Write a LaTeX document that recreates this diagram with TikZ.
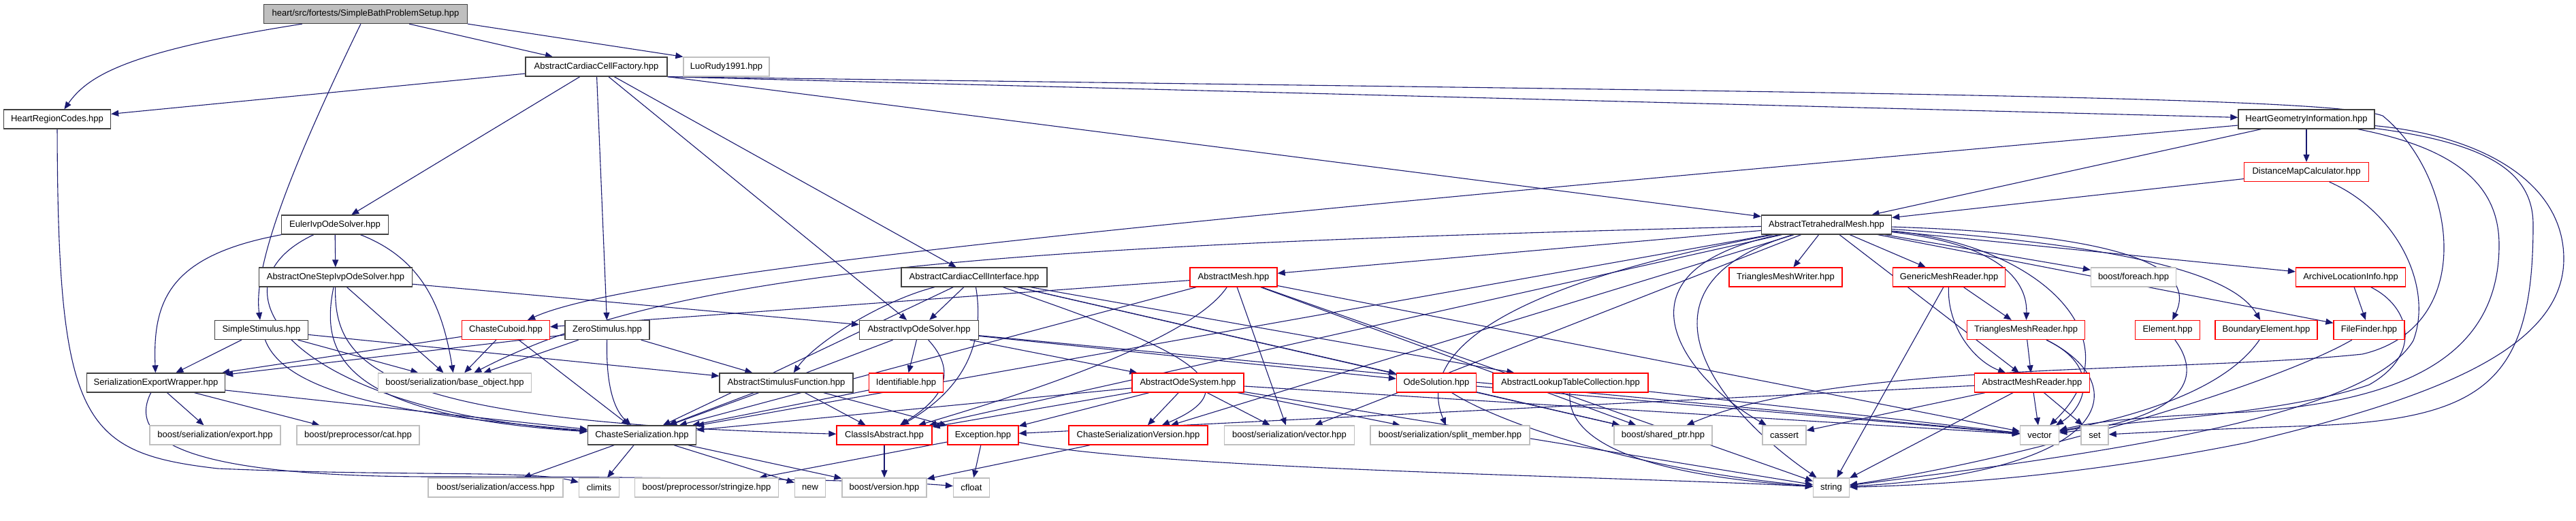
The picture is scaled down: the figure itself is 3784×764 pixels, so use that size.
\documentclass[tikz,border=0pt]{standalone}
\usepackage{fontspec}
\setmainfont{Liberation Sans}
\usetikzlibrary{arrows.meta}
\definecolor{edgec}{HTML}{191970}
\definecolor{nodeb}{HTML}{404040}
\definecolor{grayb}{HTML}{BFBFBF}
\definecolor{mainf}{HTML}{BFBFBF}
\pgfdeclarelayer{back}
\pgfdeclarelayer{edges}
\pgfsetlayers{back,edges,main}
\begin{document}
\begin{tikzpicture}[x=1pt,y=-1pt,
  font=\fontsize{13}{15}\selectfont,
  box/.style={draw=nodeb, line width=1.3pt, fill=white, minimum height=28pt, inner xsep=6pt, inner ysep=0pt, text=black},
  mainbox/.style={box, fill=mainf},
  redbox/.style={box, draw=red},
  graybox/.style={box, draw=grayb},
  e/.style={draw=edgec, line width=1.1pt, -{Triangle[length=11pt,width=9pt]}},
]
\useasboundingbox (0,0) rectangle (3784,764);
\begin{pgfonlayer}{back}
\fill[white] (0,0) rectangle (3784,764);
\end{pgfonlayer}

\node[mainbox, minimum width=299pt] (main) at (537,20.5) {heart/src/fortests/SimpleBathProblemSetup.hpp};
\node[box, minimum width=208pt] (ACCF) at (876,98) {AbstractCardiacCellFactory.hpp};
\node[graybox, minimum width=126pt] (LR) at (1067,98) {LuoRudy1991.hpp};
\node[box, minimum width=157pt] (HRC) at (84,175) {HeartRegionCodes.hpp};
\node[box, minimum width=200pt] (HGI) at (3388,175) {HeartGeometryInformation.hpp};
\node[redbox, minimum width=183pt] (DMC) at (3388,252.5) {DistanceMapCalculator.hpp};
\node[box, minimum width=157pt] (Euler) at (492,330) {EulerIvpOdeSolver.hpp};
\node[box, minimum width=191pt] (ATM) at (2683,330) {AbstractTetrahedralMesh.hpp};
\node[box, minimum width=225pt] (AOSIOS) at (493,407) {AbstractOneStepIvpOdeSolver.hpp};
\node[box, minimum width=214pt] (ACCI) at (1431,407) {AbstractCardiacCellInterface.hpp};
\node[redbox, minimum width=128pt] (AMesh) at (1812,407) {AbstractMesh.hpp};
\node[redbox, minimum width=166pt] (TMW) at (2623,407) {TrianglesMeshWriter.hpp};
\node[redbox, minimum width=165pt] (GMR) at (2863,407) {GenericMeshReader.hpp};
\node[graybox, minimum width=125pt] (foreach) at (3134,407) {boost/foreach.hpp};
\node[redbox, minimum width=161pt] (ALI) at (3453,407) {ArchiveLocationInfo.hpp};
\node[box, minimum width=137pt] (SS) at (384,484.5) {SimpleStimulus.hpp};
\node[redbox, minimum width=129pt] (Cuboid) at (743,484.5) {ChasteCuboid.hpp};
\node[box, minimum width=124pt] (ZS) at (892,484.5) {ZeroStimulus.hpp};
\node[box, minimum width=175pt] (AIOS) at (1350,484.5) {AbstractIvpOdeSolver.hpp};
\node[redbox, minimum width=173pt] (TMR) at (2976,484.5) {TrianglesMeshReader.hpp};
\node[redbox, minimum width=95pt] (Elem) at (3184,484.5) {Element.hpp};
\node[redbox, minimum width=150pt] (BElem) at (3329,484.5) {BoundaryElement.hpp};
\node[redbox, minimum width=104pt] (FF) at (3480,484.5) {FileFinder.hpp};
\node[box, minimum width=203pt] (SEW) at (229,562) {SerializationExportWrapper.hpp};
\node[graybox, minimum width=225pt] (base) at (668,562) {boost/serialization/base\_object.hpp};
\node[box, minimum width=196pt] (ASF) at (1155,562) {AbstractStimulusFunction.hpp};
\node[redbox, minimum width=109pt] (Ident) at (1331,562) {Identifiable.hpp};
\node[redbox, minimum width=164pt] (AOS) at (1745,562) {AbstractOdeSystem.hpp};
\node[redbox, minimum width=117pt] (OdeSol) at (2110,562) {OdeSolution.hpp};
\node[redbox, minimum width=228pt] (ALTC) at (2307,562) {AbstractLookupTableCollection.hpp};
\node[redbox, minimum width=169pt] (AMR) at (2985,562) {AbstractMeshReader.hpp};
\node[graybox, minimum width=192pt] (export) at (316,639) {boost/serialization/export.hpp};
\node[graybox, minimum width=180pt] (cat) at (526,639) {boost/preprocessor/cat.hpp};
\node[box, minimum width=159pt] (CS) at (943,639) {ChasteSerialization.hpp};
\node[redbox, minimum width=140pt] (CIA) at (1299,639) {ClassIsAbstract.hpp};
\node[redbox, minimum width=104pt] (Exc) at (1444,639) {Exception.hpp};
\node[redbox, minimum width=204pt] (CSV) at (1672,639) {ChasteSerializationVersion.hpp};
\node[graybox, minimum width=191pt] (bsvector) at (1894,639) {boost/serialization/vector.hpp};
\node[graybox, minimum width=234pt] (split) at (2130,639) {boost/serialization/split\_member.hpp};
\node[graybox, minimum width=144pt] (shared) at (2443,639) {boost/shared\_ptr.hpp};
\node[graybox, minimum width=64pt] (cassert) at (2621,639) {cassert};
\node[graybox, minimum width=57pt] (vector) at (2996,639) {vector};
\node[graybox, minimum width=40pt] (set) at (3077,639) {set};
\node[graybox, minimum width=198pt] (access) at (728,716) {boost/serialization/access.hpp};
\node[graybox, minimum width=59pt] (climits) at (880,716) {climits};
\node[graybox, minimum width=211pt] (stringize) at (1038,716) {boost/preprocessor/stringize.hpp};
\node[graybox, minimum width=45pt] (new) at (1190,716) {new};
\node[graybox, minimum width=124pt] (version) at (1299,716) {boost/version.hpp};
\node[graybox, minimum width=53pt] (cfloat) at (1427,716) {cfloat};
\node[graybox, minimum width=53pt] (string) at (2690,716) {string};

\begin{pgfonlayer}{edges}
% main
\draw[e] (main) .. controls (190,75) and (130,110) .. (HRC);
\draw[e] (main) .. controls (450,200) and (370,380) .. (SS);
\draw[e] (main) -- (ACCF);
\draw[e] (main.south east) -- (LR.north west);
% ACCF
\draw[e] (ACCF) -- (HRC);
\draw[e] (ACCF) -- (Euler);
\draw[e] (ACCF) -- (ZS);
\draw[e] (ACCF) -- (AIOS);
\draw[e] (ACCF) -- (ACCI);
\draw[e] (ACCF.south east) -- (HGI);
\draw[e] (ACCF.south east) -- (ATM);
\draw[e] (ACCF.south east) .. controls (2600,135) and (3420,140) .. (3500,170) .. controls (3610,260) and (3640,480) .. (3470,520) .. controls (3200,548) and (2700,530) .. (shared);
% HRC
\draw[e] (HRC) .. controls (85,620) and (120,665) .. (320,688) .. controls (600,700) and (780,690) .. (climits);
% HGI
\draw[e] (HGI) -- (DMC);
\draw[e] (HGI) -- (ATM);
\draw[e] (HGI) .. controls (2000,300) and (950,390) .. (Cuboid);
\draw[e] (HGI) .. controls (3650,200) and (3766,270) .. (3766,380) .. controls (3766,520) and (3550,590) .. (3300,650) .. controls (3050,700) and (2850,712) .. (string);
\draw[e] (HGI) .. controls (3650,210) and (3721,250) .. (3721,330) .. controls (3721,560) and (3650,615) .. (3400,625) .. controls (3250,630) and (3150,635) .. (set);
\draw[e] (HGI) .. controls (3620,220) and (3671,280) .. (3671,360) .. controls (3671,540) and (3500,590) .. (3300,605) .. controls (3150,612) and (3080,618) .. (vector);
% DMC
\draw[e] (DMC) -- (ATM);
\draw[e] (DMC) .. controls (3520,310) and (3575,420) .. (3545,500) .. controls (3480,610) and (3100,665) .. (string);
% ALI, FF, Elem, BElem
\draw[e] (ALI) -- (FF);
\draw[e] (ALI) .. controls (3540,450) and (3560,520) .. (3480,565) .. controls (3350,610) and (3100,620) .. (vector);
\draw[e] (FF) .. controls (3350,560) and (3000,670) .. (string);
\draw[e] (Elem) .. controls (3240,560) and (3200,615) .. (vector);
\draw[e] (BElem) .. controls (3270,570) and (3150,608) .. (vector);
% Euler
\draw[e] (Euler) -- (AOSIOS);
\draw[e] (Euler) .. controls (250,375) and (224,440) .. (SEW);
\draw[e] (Euler) .. controls (300,420) and (420,600) .. (CS);
\draw[e] (Euler) .. controls (620,380) and (650,450) .. (base);
% AOSIOS
\draw[e] (AOSIOS) -- (AIOS);
\draw[e] (AOSIOS) -- (base);
\draw[e] (AOSIOS) .. controls (470,520) and (500,610) .. (CS);
\draw[e] (AOSIOS) .. controls (490,540) and (560,620) .. (CIA);
% SS
\draw[e] (SS) -- (SEW);
\draw[e] (SS) -- (ASF);
\draw[e] (SS) -- (base);
\draw[e] (SS) .. controls (420,580) and (600,610) .. (CS);
% Cuboid
\draw[e] (Cuboid) -- (SEW);
\draw[e] (Cuboid) -- (base);
\draw[e] (Cuboid) -- (CS);
% ZS
\draw[e] (ZS) -- (SEW);
\draw[e] (ZS) -- (base);
\draw[e] (ZS) .. controls (890,560) and (900,600) .. (CS);
\draw[e] (ZS) -- (ASF);
% ACCI
\draw[e] (ACCI) -- (AIOS);
\draw[e] (ACCI) .. controls (1450,520) and (1400,580) .. (CIA);
\draw[e] (ACCI) .. controls (1700,500) and (1860,560) .. (CSV);
\draw[e] (ACCI) -- (OdeSol);
\draw[e] (ACCI) -- (ALTC);
\draw[e] (ACCI) .. controls (1300,440) and (1200,500) .. (ASF);
\draw[e] (ACCI) -- (CS);
\draw[e] (ACCI) -- (shared);
% AMesh
\draw[e] (AMesh) -- (Cuboid);
\draw[e] (AMesh) -- (CS);
\draw[e] (AMesh) .. controls (1750,500) and (1500,580) .. (CIA);
\draw[e] (AMesh) -- (vector);
\draw[e] (AMesh) -- (string);
\draw[e] (AMesh) -- (shared);
\draw[e] (AMesh) -- (bsvector);
% AIOS
\draw[e] (AIOS) -- (Ident);
\draw[e] (AIOS) .. controls (1420,560) and (1360,600) .. (CIA);
\draw[e] (AIOS) -- (AOS);
\draw[e] (AIOS) -- (CS);
\draw[e] (AIOS) -- (OdeSol);
\draw[e] (AIOS) -- (vector);
% ASF, Ident
\draw[e] (ASF) -- (CS);
\draw[e] (ASF) -- (CIA);
\draw[e] (ASF) -- (Exc);
\draw[e] (Ident) -- (CS);
% AOS
\draw[e] (AOS) -- (CS);
\draw[e] (AOS) -- (CIA);
\draw[e] (AOS) -- (Exc);
\draw[e] (AOS) -- (CSV);
\draw[e] (AOS) -- (bsvector);
\draw[e] (AOS) -- (split);
\draw[e] (AOS) -- (vector);
\draw[e] (AOS) -- (string);
% OdeSol, ALTC
\draw[e] (OdeSol) -- (shared);
\draw[e] (OdeSol) -- (vector);
\draw[e] (OdeSol) .. controls (2200,620) and (2400,690) .. (string);
\draw[e] (ALTC) -- (vector);
\draw[e] (ALTC) .. controls (2300,660) and (2450,700) .. (string);
% ATM
\draw[e] (ATM) -- (AMesh);
\draw[e] (ATM) -- (TMW);
\draw[e] (ATM) -- (GMR);
\draw[e] (ATM) -- (AMR);
\draw[e] (ATM) .. controls (2950,360) and (2978,420) .. (TMR);
\draw[e] (ATM) -- (foreach);
\draw[e] (ATM) .. controls (3150,345) and (3225,400) .. (Elem);
\draw[e] (ATM) .. controls (3200,365) and (3290,420) .. (BElem);
\draw[e] (ATM) -- (FF);
\draw[e] (ATM) -- (ALI);
\draw[e] (ATM) .. controls (3000,360) and (3140,500) .. (vector);
\draw[e] (ATM) .. controls (2380,420) and (2520,600) .. (string);
\draw[e] (ATM) .. controls (2350,400) and (2480,560) .. (cassert);
\draw[e] (ATM) -- (CS);
\draw[e] (ATM) -- (CIA);
\draw[e] (ATM) -- (CSV);
\draw[e] (ATM) -- (bsvector);
\draw[e] (ATM) .. controls (2200,420) and (2080,520) .. (split);
\draw[e] (ATM) .. controls (1500,360) and (1000,390) .. (base);
% mesh readers
\draw[e] (GMR) -- (TMR);
\draw[e] (GMR) .. controls (2860,480) and (2900,530) .. (AMR);
\draw[e] (GMR) -- (string);
\draw[e] (TMR) -- (AMR);
\draw[e] (TMR) .. controls (3090,540) and (3060,600) .. (vector);
\draw[e] (TMR) .. controls (3130,560) and (3120,690) .. (string);
\draw[e] (AMR) -- (vector);
\draw[e] (AMR) -- (set);
\draw[e] (AMR) -- (string);
\draw[e] (AMR) -- (cassert);
\draw[e] (AMR) -- (Exc);
% SEW
\draw[e] (SEW) -- (export);
\draw[e] (SEW) -- (cat);
\draw[e] (SEW) -- (CS);
\draw[e] (SEW) .. controls (190,640) and (250,700) .. (640,700) .. controls (1000,700) and (1300,705) .. (cfloat);
% CS and bottom
\draw[e] (CS) -- (access);
\draw[e] (CS) -- (climits);
\draw[e] (CS) -- (new);
\draw[e] (CS) -- (version);
\draw[e] (CIA) -- (version);
\draw[e] (CSV) -- (version);
\draw[e] (Exc) -- (cfloat);
\draw[e] (Exc) -- (stringize);
\draw[e] (Exc) .. controls (1700,690) and (2400,700) .. (string);
\end{pgfonlayer}
\end{tikzpicture}
\end{document}
